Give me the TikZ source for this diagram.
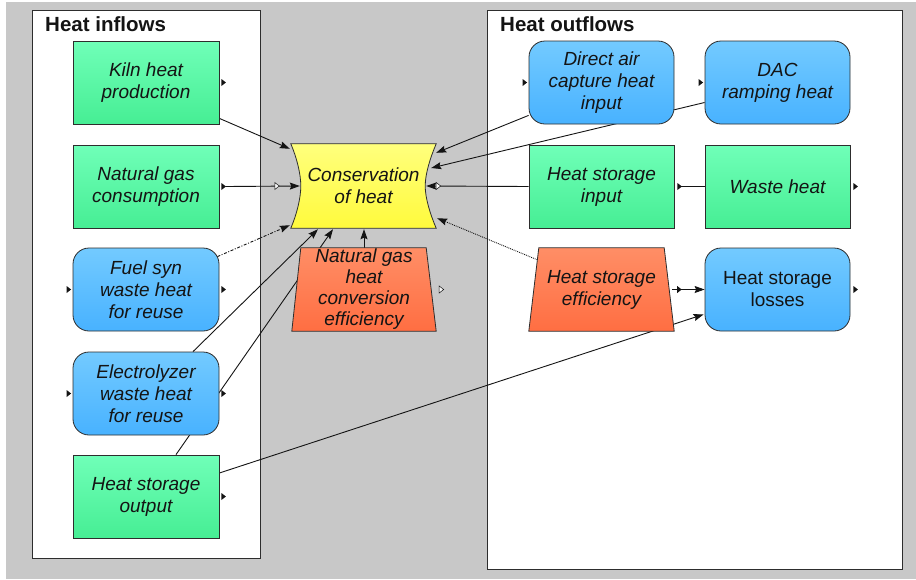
\documentclass[tikz,border=0pt]{standalone}
\usepackage{fontspec}
\setmainfont{Liberation Sans}
\usetikzlibrary{calc,arrows.meta}

\definecolor{canvas}{RGB}{200,200,200}
\definecolor{frame}{RGB}{45,45,45}
\definecolor{greenT}{RGB}{112,255,184}
\definecolor{greenB}{RGB}{70,238,148}
\definecolor{blueT}{RGB}{115,202,255}
\definecolor{blueB}{RGB}{72,178,255}
\definecolor{yelT}{RGB}{255,255,125}
\definecolor{yelB}{RGB}{255,250,60}
\definecolor{orT}{RGB}{255,142,102}
\definecolor{orB}{RGB}{255,110,66}
\definecolor{ink}{RGB}{20,20,20}

\pgfdeclarelayer{bg}
\pgfdeclarelayer{edges}
\pgfdeclarelayer{fills}
\pgfsetlayers{bg,edges,fills,main}

% small flow marker: a tiny right-pointing triangle
\newcommand\flowmark[1]{\fill[ink] #1 ++(-2,-3.5) -- ++(4.5,3.5) -- ++(-4.5,3.5) -- cycle;}
\newcommand\openmark[1]{\filldraw[fill=white!85!canvas,draw=ink,line width=0.5pt] #1 ++(-2,-3.5) -- ++(4.5,3.5) -- ++(-4.5,3.5) -- cycle;}

\begin{document}
\begin{tikzpicture}[x=1pt,y=-1pt,
  lbl/.style={font=\fontsize{19}{22}\selectfont\itshape, text=ink, align=center},
  box/.style={lbl, minimum width=146, minimum height=83, inner sep=0pt,
              draw=frame, line width=0.8pt},
  stock/.style={box, top color=greenT, bottom color=greenB},
  conv/.style={box, rounded corners=16pt, top color=blueT, bottom color=blueB},
  bare/.style={lbl, minimum width=145, minimum height=83, inner sep=0pt},
  panel/.style={draw=frame, line width=0.9pt, fill=white},
  link/.style={line width=0.9pt, draw=ink},
  tip/.style={-{Stealth[length=10pt,width=7pt,inset=1.5pt]}},
  dashdot/.style={dash pattern=on 3pt off 1.6pt on 1pt off 1.6pt},
  title/.style={font=\fontsize{20.5}{24}\selectfont\bfseries, text=ink, anchor=base west, inner sep=0pt}
]
\useasboundingbox (0,0) rectangle (916,579);

\begin{pgfonlayer}{bg}
  \fill[white] (0,0) rectangle (916,579);
  \fill[canvas] (6,2) rectangle (916,579);
  \draw[panel] (32,10) rectangle (260,558);
  \draw[panel] (487,10) rectangle (902,569);
\end{pgfonlayer}

\node[title] (tin) at (45,31) {Heat inflows};
\node[title] (tout) at (500,31) {Heat outflows};

% heat inflows
\node[stock] (kiln)  at (146,82.5)  {Kiln heat\\production};
\node[stock] (ngc)   at (146,186.5) {Natural gas\\consumption};
\node[conv]  (fuel)  at (146,289.5) {Fuel syn\\waste heat\\for reuse};
\node[conv]  (elec)  at (146,393.5) {Electrolyzer\\waste heat\\for reuse};
\node[stock] (hso)   at (146,496.5) {Heat storage\\output};

% heat outflows
\node[conv,minimum width=145]  (dac)   at (601.5,82.5)  {Direct air\\capture heat\\input};
\node[conv,minimum width=145]  (ramp)  at (777.5,82.5)  {DAC\\ramping heat};
\node[stock,minimum width=145] (hsi)   at (601.5,186.5) {Heat storage\\input};
\node[stock,minimum width=145] (waste) at (777.5,186.5) {Waste heat};
\node[conv,minimum width=145,font=\fontsize{19}{22}\selectfont\upshape] (hsl) at (777.5,289.5) {Heat storage\\losses};
\node[bare] (hse) at (601.5,289.5) {Heat storage\\efficiency};

% centre
\node[bare,minimum height=84] (cons) at (363.5,186) {Conservation\\of heat};
\node[bare,minimum width=144,font=\fontsize{19}{21}\selectfont\itshape] (ngce) at (364,289.5)
  {Natural gas\\heat\\conversion\\efficiency};

\begin{pgfonlayer}{fills}
  % converter body with concave sides
  \path[draw=frame,line width=0.8pt,top color=yelT,bottom color=yelB]
    (cons.north west) -- (cons.north east)
    .. controls ($(cons.north east)+(-6,14)$) and ($(cons.east)+(-11,-12)$) .. ($(cons.east)+(-11,0)$)
    .. controls ($(cons.east)+(-11,12)$) and ($(cons.south east)+(-6,-14)$) .. (cons.south east)
    -- (cons.south west)
    .. controls ($(cons.south west)+(6,-14)$) and ($(cons.west)+(10,12)$) .. ($(cons.west)+(10,0)$)
    .. controls ($(cons.west)+(10,-12)$) and ($(cons.north west)+(6,14)$) .. (cons.north west) -- cycle;
  % efficiency trapezia
  \path[draw=frame,line width=0.8pt,top color=orT,bottom color=orB]
    (ngce.south west) -- (ngce.south east) -- ($(ngce.north east)+(-10,0)$)
    -- ($(ngce.north west)+(9,0)$) -- cycle;
  \path[draw=frame,line width=0.8pt,top color=orT,bottom color=orB]
    (hse.south west) -- (hse.south east) -- ($(hse.north east)+(-10,0)$)
    -- ($(hse.north west)+(10,0)$) -- cycle;
\end{pgfonlayer}

\begin{pgfonlayer}{edges}
  \draw[link,tip] ($(kiln.south east)+(0,-6)$) -- ($(cons.north west)+(-1,5)$);
  \draw[link,tip] ($(ngc.east)+(6,0)$) -- ($(cons.west)+(9,0)$);
  \draw[link,tip,dashdot] ($(fuel.north east)+(-2,9)$) -- ($(cons.south west)+(-1,-3)$);
  \draw[link,tip] ($(elec.north)+(47,0)$) -- ($(cons.south)+(-45.5,1)$);
  \draw[link,tip] ($(hso.north)+(30,0)$) -- ($(cons.south)+(-30.5,1)$);
  \draw[link,tip] (ngce.north) -- ($(cons.south)+(0.5,1)$);
  \draw[link,tip] ($(dac.south west)+(0,-9)$) -- ($(cons.north east)+(0,9)$);
  \draw[link,tip] ($(ramp.west)+(0,20)$) -- ($(cons.east)+(-5,-18)$);
  \draw[link,tip] (hsi.west) -- ($(cons.east)+(-10,0)$);
  \draw[link,tip,densely dotted] ($(hse.north west)+(8.5,12)$) -- ($(cons.south east)+(1,-10)$);
  \draw[link] ($(hsi.east)+(5,0)$) -- (waste.west);
  \draw[link,tip] ($(hse.east)+(-2,0)$) -- (hsl.west);
  \draw[link,tip] ($(hso.east)+(0,-23.5)$) -- ($(hsl.south west)+(-1,-17)$);
\end{pgfonlayer}

% flow markers
\flowmark{($(kiln.east)+(4,0)$)}
\flowmark{($(ngc.east)+(4,0)$)}
\flowmark{($(fuel.west)+(-4,0)$)}
\flowmark{($(fuel.east)+(4,0)$)}
\flowmark{($(elec.west)+(-4,0)$)}
\flowmark{($(elec.east)+(4,0)$)}
\flowmark{($(hso.east)+(4,0)$)}
\flowmark{($(dac.west)+(-4,0)$)}
\flowmark{($(ramp.west)+(-4,0)$)}
\flowmark{($(hsi.east)+(5,0)$)}
\flowmark{($(waste.east)+(5,0)$)}
\flowmark{($(hse.east)+(5,0)$)}
\flowmark{($(hsl.east)+(5,0)$)}
\openmark{($(ngce.east)+(5,0)$)}
\openmark{($(cons.west)+(-14,0)$)}
\openmark{($(cons.east)+(2,0)$)}
\end{tikzpicture}
\end{document}
